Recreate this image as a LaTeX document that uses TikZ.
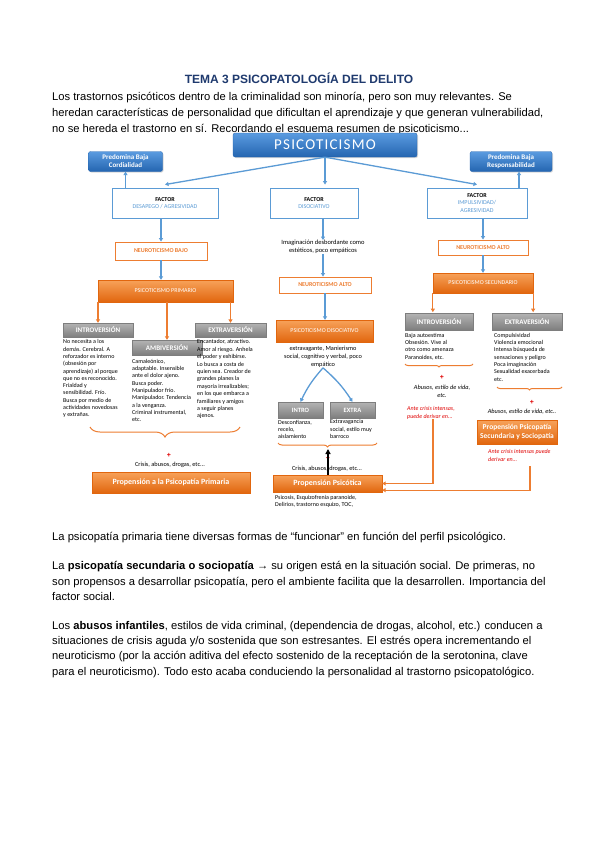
\documentclass[tikz,border=0pt]{standalone}
\usepackage{fontspec}
\setmainfont{Liberation Sans}
\newfontfamily\calfont{Carlito}
\newfontfamily\calspaced[LetterSpace=8]{Carlito}
\usetikzlibrary{arrows.meta,shadows,decorations.pathreplacing,calc}
\definecolor{titleblue}{HTML}{1F3A6E}
\definecolor{blueT}{HTML}{5A9BE0}
\definecolor{blueB}{HTML}{2465B0}
\definecolor{bluebd}{HTML}{5B9BD5}
\definecolor{bluearr}{HTML}{5B9BD5}
\definecolor{orangebd}{HTML}{ED7D31}
\definecolor{orT}{HTML}{F7A25A}
\definecolor{orB}{HTML}{E1660E}
\definecolor{grT}{HTML}{B4B4B4}
\definecolor{grB}{HTML}{7E7E7E}
\definecolor{redtxt}{HTML}{E00000}
\begin{document}
\begin{tikzpicture}[x=1pt,y=-1pt,
  body/.style={font=\fontsize{11.2}{13}\selectfont, anchor=base west, inner sep=0pt},
  shad/.style={drop shadow={opacity=0.3,shadow xshift=1pt,shadow yshift=-1pt}},
  bluebox/.style={shad, top color=blueT, bottom color=blueB, draw=blueB, line width=0.3pt, rounded corners=2pt, text=white, inner sep=0pt, align=center},
  factorbox/.style={draw=bluebd, line width=0.9pt, fill=white, inner sep=0pt, align=center, font=\calfont\fontsize{6}{7.5}\selectfont},
  neurobox/.style={draw=orangebd, line width=0.9pt, fill=white, inner sep=0pt, text=orangebd, font=\calfont\bfseries\fontsize{6}{7}\selectfont},
  orbox/.style={shad, top color=orT, bottom color=orB, draw=orB, line width=0.3pt, text=white, inner sep=0pt, align=center},
  graybox/.style={shad, top color=grT, bottom color=grB, draw=grB, line width=0.3pt, text=white, inner sep=0pt, font=\calfont\bfseries\fontsize{7}{8}\selectfont},
  smalltxt/.style={font=\calfont\fontsize{6}{7.3}\selectfont, inner sep=0pt, align=left, anchor=north west},
  ctxt/.style={font=\calfont\fontsize{6.3}{8}\selectfont, inner sep=0pt, align=center},
  redtext/.style={font=\calfont\itshape\fontsize{6}{8}\selectfont, text=redtxt, inner sep=0pt, align=left},
  barrow/.style={draw=bluearr, line width=1.3pt, -{Triangle[length=3.5pt,width=4pt]}},
  oarrow/.style={draw=orangebd, line width=1.2pt, -{Triangle[length=3.5pt,width=4pt]}},
  oline/.style={draw=orangebd, line width=1.1pt, -{Triangle[length=3.5pt,width=4pt]}},
  obrace/.style={draw=orangebd, line width=1pt, decorate},
  plus/.style={text=redtxt, font=\bfseries\fontsize{7}{7}\selectfont, inner sep=0pt},
]
\useasboundingbox[fill=white] (0,0) rectangle (599,848);

% title and intro text
\node[font=\bfseries\fontsize{12}{14}\selectfont, text=titleblue, inner sep=0pt, anchor=base] (title) at (299,84) {TEMA 3 PSICOPATOLOGÍA DEL DELITO};
\node[body] (p1) at (52,101) {Los trastornos psicóticos dentro de la criminalidad son minoría, pero son muy relevantes. Se};
\node[body] (p2) at (52,117) {heredan características de personalidad que dificultan el aprendizaje y que generan vulnerabilidad,};
\node[body] (p3) at (52,132) {no se hereda el trastorno en sí. Recordando el esquema resumen de psicoticismo...};

% top level
\node[bluebox, minimum width=184pt, minimum height=24pt, font=\calspaced\fontsize{15}{15}\selectfont] (psico) at (325,145) {PSICOTICISMO};
\node[bluebox, minimum width=74pt, minimum height=20pt, font=\calfont\bfseries\fontsize{7}{8}\selectfont] (predC) at (125.5,161.5) {Predomina Baja\\Cordialidad};
\node[bluebox, minimum width=82pt, minimum height=20pt, font=\calfont\bfseries\fontsize{7}{8}\selectfont] (predR) at (511,161.5) {Predomina Baja\\Responsabilidad};

\node[factorbox, minimum width=106pt, minimum height=30pt] (fdes) at (165,203) {\textbf{FACTOR}\\\textcolor{bluebd}{DESAPEGO / AGRESIVIDAD}};
\node[factorbox, minimum width=88pt, minimum height=30pt] (fdis) at (314,203) {\textbf{FACTOR}\\\textcolor{bluebd}{DISOCIATIVO}};
\node[factorbox, minimum width=100pt, minimum height=30pt] (fimp) at (477,203) {\textbf{FACTOR}\\\textcolor{bluebd}{IMPULSIVIDAD/}\\\textcolor{bluebd}{AGRESIVIDAD}};

\draw[barrow] (psico.south) -- ([yshift=3pt]fdes.north);
\draw[barrow] (psico.south) -- ([yshift=3pt]psico.south |- fdis.north);
\draw[barrow] (psico.south) -- ([yshift=3pt]fimp.north);
\draw[barrow] (predC.south |- fdes.north) -- (predC.south);
\draw[barrow] ([xshift=8pt]predR.south |- fimp.north) -- ([xshift=8pt]predR.south);

% left column
\node[neurobox, minimum width=92pt, minimum height=18pt] (nbajo) at (161,251) {NEUROTICISMO BAJO};
\node[orbox, minimum width=135pt, minimum height=22pt, font=\calfont\fontsize{6}{7}\selectfont] (pprim) at (165.5,291) {PSICOTICISMO PRIMARIO};
\node[graybox, minimum width=70pt, minimum height=14pt] (intro1) at (98,330) {INTROVERSIÓN};
\node[graybox, minimum width=70pt, minimum height=15pt] (ambi) at (167,347.5) {AMBIVERSIÓN};
\node[graybox, minimum width=71pt, minimum height=14pt] (extra1) at (230.5,330) {EXTRAVERSIÓN};
\draw[barrow] (nbajo.north |- fdes.south) -- (nbajo.north);
\draw[barrow] (nbajo.south) -- (nbajo.south |- pprim.north);
\draw[oarrow] (intro1.north |- pprim.south) -- (intro1.north);
\draw[oarrow] (ambi.north |- pprim.south) -- (ambi.north);
\draw[oarrow] (extra1.north |- pprim.south) -- (extra1.north);

\node[smalltxt] (tintro1) at (63,339.5) {No necesita a los\\demás. Cerebral. A\\reforzador es interno\\(obsesión por\\aprendizaje) al porque\\que no es reconocido.\\Frialdad y\\sensibilidad. Frío.\\Busca por medio de\\actividades novedosas\\y extrañas.};
\node[smalltxt] (tambi) at (132,359) {Camaleónico,\\adaptable. Insensible\\ante el dolor ajeno.\\Busca poder.\\Manipulador frío.\\Manipulador. Tendencia\\a la venganza.\\Criminal instrumental,\\etc.};
\node[smalltxt, font=\calfont\fontsize{6}{7.4}\selectfont] (textra1) at (197,339.5) {Encantador, atractivo.\\Amor al riesgo. Anhela\\el poder y exhibirse.\\Lo busca a costa de\\quien sea. Creador de\\grandes planes la\\mayoría irrealizables;\\en los que embarca a\\familiares y amigos\\a seguir planes\\ajenos.};

\draw[obrace, decoration={brace, mirror, amplitude=10pt}] (90,427) -- (240,427);
\node[plus] (plus1) at (169,455) {+};
\node[ctxt] (crisis1) at (170,465) {Crisis, abusos, drogas, etc...};
\node[orbox, minimum width=158pt, minimum height=21pt, font=\calfont\bfseries\fontsize{8}{9}\selectfont] (prop1) at (171,482.5) {Propensión a la Psicopatía Primaria};

% middle column
\node[ctxt, font=\calfont\fontsize{6.5}{8}\selectfont] (imag) at (323,247) {Imaginación desbordante como\\estéticos, poco empáticos};
\node[neurobox, minimum width=92pt, minimum height=16pt] (nalto1) at (325,285) {NEUROTICISMO ALTO};
\node[orbox, minimum width=97pt, minimum height=22pt, font=\calfont\fontsize{6}{7}\selectfont] (pdis) at (324.5,331) {PSICOTICISMO DISOCIATIVO};
\node[ctxt] (tpdis) at (323,357) {extravagante, Manierismo\\social, cognitivo y verbal, poco\\empático};
\draw[barrow] (imag.north |- fdis.south) -- (imag.north);
\draw[barrow] (imag.south) -- (imag.south |- nalto1.north);
\draw[barrow] (nalto1.south) -- (nalto1.south |- pdis.north);

\node[graybox, minimum width=45pt, minimum height=16pt, font=\calfont\bfseries\fontsize{6.5}{7}\selectfont] (intro2) at (300.5,410) {INTRO};
\node[graybox, minimum width=45pt, minimum height=16pt, font=\calfont\bfseries\fontsize{6.5}{7}\selectfont] (extra2) at (352.5,410) {EXTRA};
\draw[barrow] (tpdis.south) to[bend right=8] (intro2.north);
\draw[barrow] (tpdis.south) to[bend left=8] (extra2.north);
\node[smalltxt] (tintro2) at (278,420) {Desconfianza,\\recelo,\\aislamiento};
\node[smalltxt] (textra2) at (330,419.5) {Extravagancia\\social, estilo muy\\barroco};
\draw[obrace, decoration={brace, mirror, amplitude=4pt}] (278,443) -- (377,443);
\coordinate (b2) at (328,449);
\node[plus] (plus2) at (328,458) {+};
\node[ctxt] (crisis2) at (327,469) {Crisis, abusos, drogas, etc...};
\node[orbox, minimum width=109pt, minimum height=17pt, font=\calfont\bfseries\fontsize{8}{9}\selectfont] (prop2) at (327.5,483.5) {Propensión Psicótica};
\draw[line width=1.6pt, -{Triangle[length=5pt,width=5pt]}] (prop2.north -| b2) -- (b2);
\node[smalltxt] (tprop2) at (275,495) {Psicosis, Esquizofrenia paranoide,\\Delirios, trastorno esquizo, TOC,};

% right column
\node[neurobox, minimum width=90pt, minimum height=15pt] (nalto2) at (483,247.5) {NEUROTICISMO ALTO};
\node[orbox, minimum width=100pt, minimum height=20pt, font=\calfont\fontsize{6}{7}\selectfont] (psec) at (483,283) {PSICOTICISMO SECUNDARIO};
\node[graybox, minimum width=68pt, minimum height=17pt] (intro3) at (439,321.5) {INTROVERSIÓN};
\node[graybox, minimum width=70pt, minimum height=17pt] (extra3) at (527,321.5) {EXTRAVERSIÓN};
\draw[barrow] (nalto2.north |- fimp.south) -- (nalto2.north);
\draw[barrow] (nalto2.south) -- (psec.north);
\draw[oarrow] (psec.south west) -- ++(0,19);
\draw[oarrow] (psec.south east) -- ++(0,19);

\node[smalltxt] (tintro3) at (405,333) {Baja autoestima\\Obsesión. Vive al\\otro como amenaza\\Paranoides, etc.};
\draw[obrace, decoration={brace, mirror, amplitude=3pt}] (405,364) -- (473,364);
\node[plus] (plus3) at (442,377) {+};
\node[ctxt, font=\calfont\itshape\fontsize{6.3}{8}\selectfont] (abus3) at (442,391) {Abusos, estilo de vida,\\etc.};
\node[redtext, anchor=north west] (red3) at (407,406) {Ante crisis intensas,\\puede derivar en...};

\node[smalltxt] (textra3) at (494,333) {Compulsividad\\Violencia emocional\\Intensa búsqueda de\\sensaciones y peligro\\Poca imaginación\\Sexualidad exacerbada\\etc.};
\draw[obrace, decoration={brace, mirror, amplitude=3pt}] (497,387) -- (562,387);
\node[plus] (plus4) at (532,402) {+};
\node[ctxt, font=\calfont\itshape\fontsize{6.3}{8}\selectfont] (abus4) at (522,412) {Abusos, estilo de vida, etc..};
\node[orbox, minimum width=80pt, minimum height=24pt, font=\calfont\bfseries\fontsize{7.5}{9}\selectfont] (prop3) at (517,432) {Propensión Psicopatía\\Secundaria y Sociopatía};
\node[redtext, anchor=north west] (red4) at (488,449) {Ante crisis intensas puede\\derivar en...};
\coordinate (r4) at (530,466);

\draw[oline] ([xshift=2pt]red3.south) |- (prop2.east);
\draw[oline] (r4) |- ($(prop2.south east)+(0,-2)$);

% bottom text
\node[body] (q1) at (52,540) {La psicopatía primaria tiene diversas formas de “funcionar” en función del perfil psicológico.};
\node[body] (q2) at (52,569) {La \textbf{psicopatía secundaria o sociopatía} → su origen está en la situación social. De primeras, no};
\node[body] (q3) at (52,585) {son propensos a desarrollar psicopatía, pero el ambiente facilita que la desarrollen. Importancia del};
\node[body] (q4) at (52,600) {factor social.};
\node[body] (q5) at (52,629) {Los \textbf{abusos infantiles}, estilos de vida criminal, (dependencia de drogas, alcohol, etc.) conducen a};
\node[body] (q6) at (52,644) {situaciones de crisis aguda y/o sostenida que son estresantes. El estrés opera incrementando el};
\node[body] (q7) at (52,659) {neuroticismo (por la acción aditiva del efecto sostenido de la receptación de la serotonina, clave};
\node[body] (q8) at (52,675) {para el neuroticismo). Todo esto acaba conduciendo la personalidad al trastorno psicopatológico.};
\end{tikzpicture}
\end{document}
